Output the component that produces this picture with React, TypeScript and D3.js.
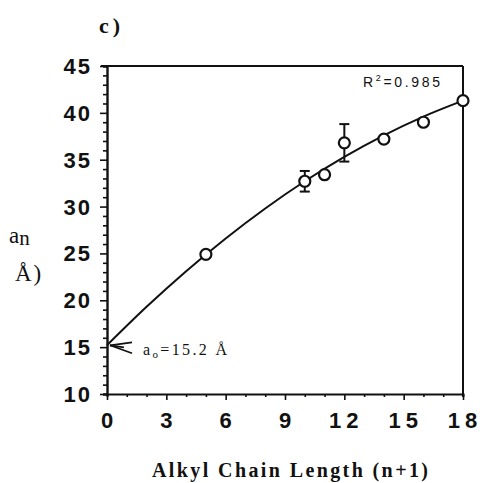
import React, { useEffect, useRef } from 'react';
import * as d3 from 'd3';

// measured points: chain length vs a_n (Å)
const chainLength = [5, 10, 11, 12, 14, 16, 18];
const aValues = [24.9, 32.7, 33.4, 36.8, 37.2, 39.0, 41.3];
const aErrors = [0, 1.1, 0, 2.0, 0, 0, 0];

// fitted curve
const fitX = [0, 2, 4, 6, 8, 10, 12, 14, 16, 18];
const fitY = [15.2, 19.3, 23.1, 26.6, 29.8, 32.7, 35.3, 37.6, 39.6, 41.3];

const xTickLabels = [0, 3, 6, 9, 12, 15, 18];
const yTickLabels = [10, 15, 20, 25, 30, 35, 40, 45];

const W = 484;
const H = 483;
const margin = { top: 66, right: 21, bottom: 89, left: 107 };

const App = () => {
  const ref = useRef<SVGSVGElement | null>(null);

  useEffect(() => {
    if (!ref.current) return;
    const svg = d3.select(ref.current);
    svg.selectAll('*').remove();

    const x = d3.scaleLinear().domain([0, 18]).range([margin.left, W - margin.right]);
    const y = d3.scaleLinear().domain([10, 45]).range([H - margin.bottom, margin.top]);

    const ink = '#111';
    const serif = 'Liberation Serif, Times New Roman, serif';
    const sans = 'Liberation Sans, Arial, sans-serif';

    // frame
    svg.append('line')
      .attr('x1', x(0) - 6).attr('x2', x(18))
      .attr('y1', y(45)).attr('y2', y(45))
      .attr('stroke', ink).attr('stroke-width', 2);
    svg.append('line')
      .attr('x1', x(18)).attr('x2', x(18))
      .attr('y1', y(45)).attr('y2', y(10) + 3)
      .attr('stroke', ink).attr('stroke-width', 2);

    // x axis, ticks hanging below
    const xAxis = d3.axisBottom(x)
      .ticks(18)
      .tickSize(3)
      .tickFormat(() => '');
    const gx = svg.append('g')
      .attr('transform', `translate(0,${y(10)})`)
      .call(xAxis);
    gx.select('.domain').attr('stroke', ink).attr('stroke-width', 2);
    gx.selectAll('.tick line')
      .attr('stroke', ink).attr('stroke-width', 1.6)
      .attr('y2', (d: any) => (d % 3 === 0 ? 6 : 3));

    svg.append('g')
      .selectAll('text')
      .data(xTickLabels)
      .enter()
      .append('text')
      .attr('x', d => x(d) + (d >= 10 ? 2 : 0))
      .attr('y', y(10) + 34)
      .attr('text-anchor', 'middle')
      .attr('font-family', sans)
      .attr('font-weight', 'bold')
      .attr('font-size', 22)
      .attr('letter-spacing', d => (d >= 10 ? 5 : 0))
      .attr('fill', ink)
      .text(d => String(d));

    // y axis
    const yAxis = d3.axisLeft(y)
      .ticks(35)
      .tickSize(4)
      .tickFormat(() => '');
    const gy = svg.append('g')
      .attr('transform', `translate(${x(0)},0)`)
      .call(yAxis);
    gy.select('.domain').attr('stroke', ink).attr('stroke-width', 2.4);
    gy.selectAll('.tick line')
      .attr('stroke', ink).attr('stroke-width', 1.6)
      .attr('x2', (d: any) => (d % 5 === 0 ? -7 : -4));

    svg.append('g')
      .selectAll('text')
      .data(yTickLabels)
      .enter()
      .append('text')
      .attr('x', x(0) - 15)
      .attr('y', d => y(d) + 8)
      .attr('text-anchor', 'end')
      .attr('font-family', sans)
      .attr('font-weight', 'bold')
      .attr('font-size', 22)
      .attr('letter-spacing', 2)
      .attr('fill', ink)
      .text(d => String(d));

    // fit curve
    const line = d3.line<number>()
      .x(d => x(d))
      .y((_, i) => y(fitY[i]))
      .curve(d3.curveMonotoneX);
    svg.append('path')
      .attr('d', line(fitX) as string)
      .attr('fill', 'none')
      .attr('stroke', ink)
      .attr('stroke-width', 2);

    // error bars
    const errIdx = chainLength.map((_, i) => i).filter(i => aErrors[i] > 0);
    const eb = svg.append('g').attr('stroke', ink).attr('stroke-width', 2);
    errIdx.forEach(i => {
      const cx = x(chainLength[i]);
      const top = y(aValues[i] + aErrors[i]);
      const bot = y(aValues[i] - aErrors[i]);
      eb.append('line').attr('x1', cx).attr('x2', cx).attr('y1', top).attr('y2', bot);
      eb.append('line').attr('x1', cx - 5).attr('x2', cx + 5).attr('y1', top).attr('y2', top);
      eb.append('line').attr('x1', cx - 5).attr('x2', cx + 5).attr('y1', bot).attr('y2', bot);
    });

    // points
    svg.append('g')
      .selectAll('circle')
      .data(chainLength)
      .enter()
      .append('circle')
      .attr('cx', d => x(d))
      .attr('cy', (_, i) => y(aValues[i]))
      .attr('r', 5.5)
      .attr('fill', 'white')
      .attr('stroke', ink)
      .attr('stroke-width', 2.2);

    // arrow to intercept
    const ax = x(0) + 3;
    const ay = y(fitY[0]);
    const ag = svg.append('g').attr('stroke', ink).attr('stroke-width', 1.8).attr('fill', 'none');
    ag.append('line').attr('x1', ax).attr('y1', ay).attr('x2', ax + 22).attr('y2', ay - 3);
    ag.append('line').attr('x1', ax).attr('y1', ay).attr('x2', ax + 22).attr('y2', ay + 8);
    ag.append('line').attr('x1', ax).attr('y1', ay).attr('x2', ax + 14).attr('y2', ay + 2);

    const lab = svg.append('text')
      .attr('x', ax + 33)
      .attr('y', ay + 10)
      .attr('textLength', 84)
      .attr('lengthAdjust', 'spacing')
      .attr('font-family', serif)
      .attr('font-size', 16)
      .attr('fill', ink);
    lab.append('tspan').text('a');
    lab.append('tspan').attr('font-size', 11).attr('dy', 3).text('o');
    lab.append('tspan').attr('dy', -3).text('=15.2 Å');

    // R^2
    const r2 = svg.append('text')
      .attr('x', 363)
      .attr('y', 87)
      .attr('textLength', 77)
      .attr('lengthAdjust', 'spacing')
      .attr('font-family', sans)
      .attr('font-size', 14)
      .attr('fill', ink);
    r2.append('tspan').text('R');
    r2.append('tspan').attr('font-size', 9).attr('dy', -6).text('2');
    r2.append('tspan').attr('dy', 6).text('=0.985');

    // panel label
    svg.append('text')
      .attr('x', 99)
      .attr('y', 33)
      .attr('font-family', serif)
      .attr('font-weight', 'bold')
      .attr('font-size', 22)
      .attr('letter-spacing', 4)
      .attr('fill', ink)
      .text('c)');

    // y title
    const yt = svg.append('text')
      .attr('x', 9)
      .attr('y', 243)
      .attr('font-family', serif)
      .attr('font-size', 23)
      .attr('fill', ink);
    yt.append('tspan').text('a');
    yt.append('tspan').attr('font-size', 21).attr('dy', 2).text('n');
    svg.append('text')
      .attr('x', 15)
      .attr('y', 281)
      .attr('font-family', serif)
      .attr('font-size', 23)
      .attr('letter-spacing', 2)
      .attr('fill', ink)
      .text('Å)');

    // x title
    svg.append('text')
      .attr('x', 152)
      .attr('y', 477)
      .attr('textLength', 276)
      .attr('lengthAdjust', 'spacing')
      .attr('font-family', serif)
      .attr('font-weight', 'bold')
      .attr('font-size', 20)
      .attr('fill', ink)
      .text('Alkyl Chain Length (n+1)');
  }, []);

  return (
    <svg
      ref={ref}
      width={W}
      height={H}
      style={{ position: 'absolute', left: 0, top: 0, background: 'white' }}
    />
  );
};

export default App;
